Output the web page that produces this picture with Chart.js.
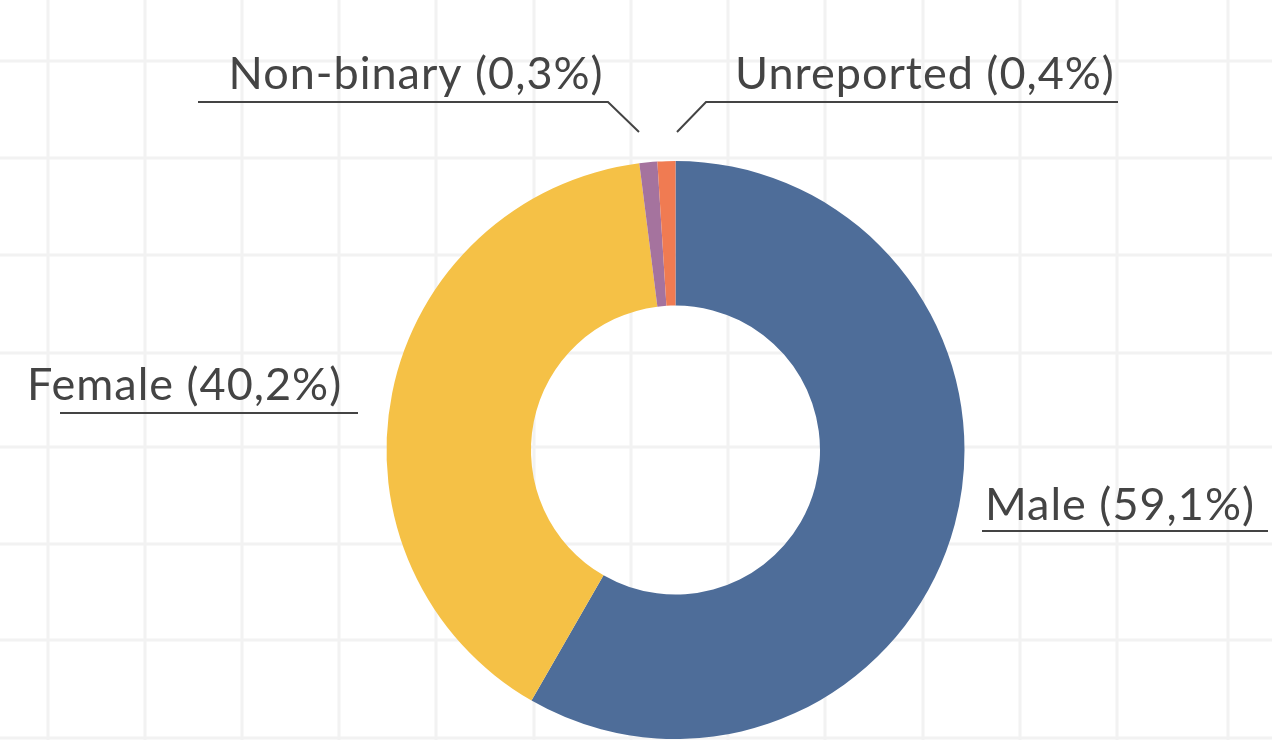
<!DOCTYPE html>
<html>
<head>
<meta charset="utf-8">
<script src="https://cdn.jsdelivr.net/npm/chart.js@4/dist/chart.umd.min.js"></script>
<style>
  html, body { margin: 0; padding: 0; background: #fff; }
  #wrap { width: 1272px; height: 740px; }
</style>
</head>
<body>
<div id="wrap"><canvas id="chart" width="1272" height="740"></canvas></div>
<script>
// Categories and values
const categories = ["Male", "Female", "Non-binary", "Unreported"]
// percentages printed in the labels
const labelShares = ["59,1", "40,2", "0,3", "0,4"]
// slice sizes as drawn in the picture (small groups are shown wider)
const sliceValues = [58.3, 39.7, 1.0, 1.0]
const sliceColors = ["#4e6d99", "#f5c146", "#a5739e", "#f07b52"]

const textColor = "#444444"
const gridColor = "#f2f2f2"

// background grid lines
const gridX = [48, 145, 242, 339, 436, 534, 631, 728, 825, 923, 1020, 1117, 1228]
const gridY = [61, 158, 255, 353, 447, 544, 640, 738]

// label placement, relative to the doughnut centre
// text: [x, y] baseline start, line: polyline points
const labelLayout = [
  { text: [309.5, 70], line: [[306.5, 81], [592.5, 81]] },
  { text: [-648.5, -50], line: [[-615.5, -37], [-317.5, -37]] },
  { text: [-447, -361], line: [[-477.5, -348], [-67.5, -348], [-36.5, -318]] },
  { text: [59.5, -361], line: [[1.5, -318], [30.5, -348], [442.5, -348]] },
]

const gridPlugin = {
  id: "gridBackground",
  beforeDraw(chart) {
    const ctx = chart.ctx
    ctx.save()
    ctx.fillStyle = "#ffffff"
    ctx.fillRect(0, 0, chart.width, chart.height)
    ctx.strokeStyle = gridColor
    ctx.lineWidth = 3
    gridX.forEach((x) => {
      ctx.beginPath()
      ctx.moveTo(x, 0)
      ctx.lineTo(x, chart.height)
      ctx.stroke()
    })
    gridY.forEach((y) => {
      ctx.beginPath()
      ctx.moveTo(0, y)
      ctx.lineTo(chart.width, y)
      ctx.stroke()
    })
    ctx.restore()
  },
}

const labelPlugin = {
  id: "sliceLabels",
  afterDatasetsDraw(chart) {
    const ctx = chart.ctx
    const arc = chart.getDatasetMeta(0).data[0]
    const cx = arc.x
    const cy = arc.y
    ctx.save()
    ctx.fillStyle = textColor
    ctx.strokeStyle = textColor
    ctx.lineWidth = 2
    ctx.font = "45px Lato"
    ctx.letterSpacing = "1px"
    ctx.textBaseline = "alphabetic"
    categories.forEach((name, i) => {
      const lay = labelLayout[i]
      ctx.fillText(name + " (" + labelShares[i] + "%)", cx + lay.text[0], cy + lay.text[1])
      ctx.beginPath()
      lay.line.forEach((p, j) => {
        if (j === 0) ctx.moveTo(cx + p[0], cy + p[1])
        else ctx.lineTo(cx + p[0], cy + p[1])
      })
      ctx.stroke()
    })
    ctx.restore()
  },
}

new Chart(document.getElementById("chart"), {
  type: "doughnut",
  data: {
    labels: categories,
    datasets: [
      {
        data: sliceValues,
        backgroundColor: sliceColors,
        borderWidth: 0,
      },
    ],
  },
  options: {
    responsive: false,
    animation: false,
    cutout: "50%",
    layout: {
      padding: { top: 161, bottom: 1, left: 386.5, right: 307.5 },
    },
    plugins: {
      legend: { display: false },
      tooltip: { enabled: false },
    },
  },
  plugins: [gridPlugin, labelPlugin],
})
</script>
</body>
</html>
